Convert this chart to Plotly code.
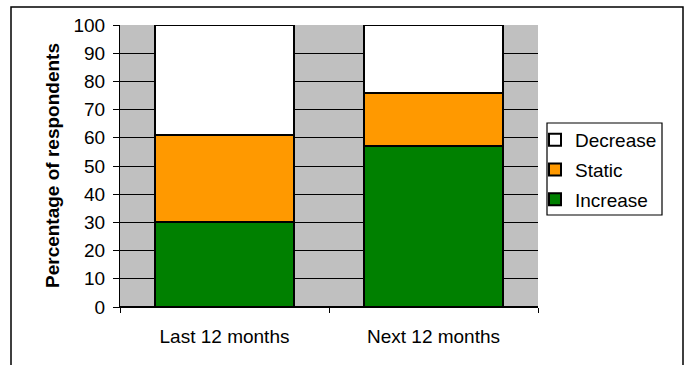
import plotly.graph_objects as go

categories = ["Last 12 months", "Next 12 months"]
increase = [30, 57]
static = [31, 19]
decrease = [39, 24]
series_names = ["Increase", "Static", "Decrease"]
series_colors = ["#008000", "#FF9900", "#FFFFFF"]
legend_ranks = [3, 2, 1]
y_ticks = [0, 10, 20, 30, 40, 50, 60, 70, 80, 90, 100]

FONT = "Liberation Sans, Arial, sans-serif"
FS = 19

fig = go.Figure()
for name, vals, col, rk in zip(series_names, [increase, static, decrease], series_colors, legend_ranks):
    fig.add_trace(go.Bar(
        x=categories, y=vals, name=name, legendgroup=name, legendrank=rk,
        marker=dict(color=col, line=dict(color="black", width=2)),
    ))

L, R, T, B = 120, 149, 25, 58
W, H = 687, 365
pw = W - L - R
ph = H - T - B

def px_x(x):
    return (x - L) / pw

def px_y(y):
    return (H - B - y) / ph

fig.update_layout(
    width=W, height=H,
    margin=dict(l=L, r=R, t=T, b=B),
    barmode="stack",
    bargap=0.335,
    plot_bgcolor="#C0C0C0",
    paper_bgcolor="white",
    font=dict(family=FONT, size=FS, color="black"),
    showlegend=True,
    legend=dict(
        traceorder="grouped",
        tracegroupgap=2,
        x=px_x(535), y=px_y(121), xanchor="left", yanchor="top",
        bgcolor="rgba(0,0,0,0)", borderwidth=0,
        font=dict(family=FONT, size=FS, color="black"),
        itemwidth=30,
    ),
    xaxis=dict(
        type="category", range=[-0.5, 1.5],
        tickson="boundaries", ticks="outside", ticklen=5, tickcolor="black",
        showline=True, linecolor="black", linewidth=1,
        showgrid=False, ticklabelstandoff=12,
        tickfont=dict(family=FONT, size=FS, color="black"),
    ),
    yaxis=dict(
        range=[0, 100], tickvals=y_ticks,
        ticks="outside", ticklen=6, tickcolor="black",
        showline=True, linecolor="black", linewidth=1,
        showgrid=True, gridcolor="black", gridwidth=1,
        zeroline=True, zerolinecolor="black",
        ticklabelstandoff=4,
        tickfont=dict(family=FONT, size=FS, color="black"),
    ),
    annotations=[dict(
        text="<b>Percentage of respondents</b>",
        xref="paper", yref="paper",
        x=px_x(52), y=0.5, xanchor="center", yanchor="middle",
        textangle=-90, showarrow=False,
        font=dict(family=FONT, size=FS, color="black"),
    )],
    shapes=[
        dict(
            type="rect", xref="paper", yref="paper",
            x0=px_x(11), x1=px_x(683), y0=px_y(380), y1=px_y(7),
            line=dict(color="black", width=1.5), fillcolor="rgba(0,0,0,0)",
            layer="above",
        ),
        dict(
            type="rect", xref="paper", yref="paper",
            x0=px_x(547), x1=px_x(662), y0=px_y(215), y1=px_y(123),
            line=dict(color="black", width=1.2), fillcolor="rgba(0,0,0,0)",
            layer="above",
        ),
    ],
)

fig.write_html("out.html")
